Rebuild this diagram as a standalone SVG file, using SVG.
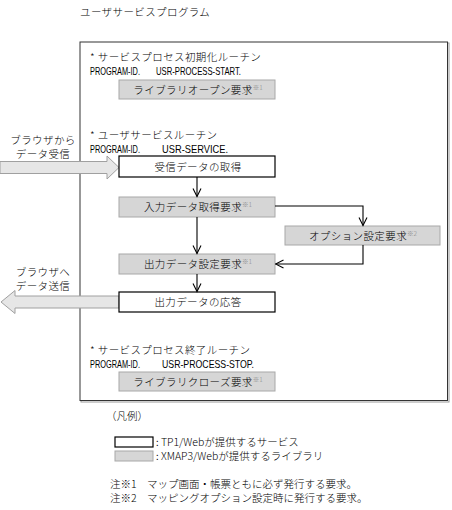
<svg xmlns="http://www.w3.org/2000/svg" width="452" height="510" viewBox="0 0 452 510">
<defs>
<style>
.t{font-family:"Noto Sans CJK JP","Liberation Sans",sans-serif;font-size:10.5px;font-weight:300;letter-spacing:0.4px;fill:#000}
.s{font-family:"Noto Sans CJK JP","Liberation Sans",sans-serif;font-size:10.5px;font-weight:300;fill:#000}
.m{font-family:"Liberation Sans","Noto Sans CJK JP",sans-serif;font-size:10.5px;fill:#000}
.c{text-anchor:middle}
.sup{font-size:6.5px;fill:#8a8a8a;letter-spacing:0}
.w{fill:#fff;stroke:#000;stroke-width:1.2}
.g{fill:#d6d6d6;stroke:#a8a8a8;stroke-width:1}
.fat{fill:#e6e6e6;stroke:#a0a0a0;stroke-width:1}
.ln{fill:none;stroke:#000;stroke-width:1.1}
</style>
<marker id="v" markerWidth="10" markerHeight="10" refX="9" refY="5" orient="auto" markerUnits="userSpaceOnUse">
<path d="M1,1 L9,5 L1,9" fill="none" stroke="#000" stroke-width="1.1"/>
</marker>
</defs>
<rect width="452" height="510" fill="#fff"/>
<text class="t" x="80" y="16">ユーザサービスプログラム</text>
<g id="main-frame">
<rect x="81" y="43" width="368" height="359" fill="none" stroke="#9a9a9a" stroke-width="1"/>
<rect x="80" y="42" width="367.5" height="358.5" fill="#fff" stroke="#333" stroke-width="1"/>
</g>
<g id="section-start">
<text class="t" x="90" y="61">* サービスプロセス初期化ルーチン</text>
<text class="m" x="90" y="74.5" textLength="50" lengthAdjust="spacingAndGlyphs">PROGRAM-ID.</text>
<text class="m" x="156" y="74.5" textLength="85" lengthAdjust="spacingAndGlyphs">USR-PROCESS-START.</text>
</g>
<g id="lib-open">
<rect class="g" x="119" y="80" width="156" height="19"/>
<text class="t c" x="198" y="93.5">ライブラリオープン要求<tspan class="sup" dy="-4">※1</tspan></text>
</g>
<g id="section-service">
<text class="t" x="90" y="139">* ユーザサービスルーチン</text>
<text class="m" x="90" y="152.5" textLength="50" lengthAdjust="spacingAndGlyphs">PROGRAM-ID.</text>
<text class="m" x="162" y="152.5" textLength="66" lengthAdjust="spacingAndGlyphs">USR-SERVICE.</text>
</g>
<g id="browser-in">
<text class="t c" x="43" y="144">ブラウザから</text>
<text class="t c" x="43" y="158">データ受信</text>
<polygon class="fat" points="0,161.5 107,161.5 107,156 119,167.5 107,179 107,173.5 0,173.5"/>
</g>
<g id="recv">
<rect class="w" x="119" y="156" width="156" height="21"/>
<text class="t c" x="198" y="170.5">受信データの取得</text>
</g>
<g id="input-req">
<rect class="g" x="119" y="197" width="156" height="20"/>
<text class="t c" x="198" y="211">入力データ取得要求<tspan class="sup" dy="-4">※1</tspan></text>
</g>
<g id="option-req">
<rect class="g" x="285" y="226" width="155" height="19"/>
<text class="t c" x="363" y="239.5">オプション設定要求<tspan class="sup" dy="-4">※2</tspan></text>
</g>
<g id="output-req">
<rect class="g" x="119" y="254" width="156" height="20"/>
<text class="t c" x="198" y="268">出力データ設定要求<tspan class="sup" dy="-4">※1</tspan></text>
</g>
<g id="browser-out">
<text class="t c" x="43" y="276">ブラウザへ</text>
<text class="t c" x="43" y="290">データ送信</text>
<polygon class="fat" points="119,296 15,296 15,290.5 1,302 15,313.5 15,308 119,308"/>
</g>
<g id="response">
<rect class="w" x="119" y="292" width="156" height="20"/>
<text class="t c" x="198" y="306">出力データの応答</text>
</g>
<g id="section-stop">
<text class="t" x="90" y="354">* サービスプロセス終了ルーチン</text>
<text class="m" x="90" y="367.5" textLength="50" lengthAdjust="spacingAndGlyphs">PROGRAM-ID.</text>
<text class="m" x="162" y="367.5" textLength="92" lengthAdjust="spacingAndGlyphs">USR-PROCESS-STOP.</text>
</g>
<g id="lib-close">
<rect class="g" x="119" y="372" width="156" height="19"/>
<text class="t c" x="198" y="385.5">ライブラリクローズ要求<tspan class="sup" dy="-4">※1</tspan></text>
</g>
<g id="connectors">
<line class="ln" x1="197" y1="177" x2="197" y2="196.5" marker-end="url(#v)"/>
<line class="ln" x1="197" y1="217" x2="197" y2="253.5" marker-end="url(#v)"/>
<line class="ln" x1="197" y1="274" x2="197" y2="291.5" marker-end="url(#v)"/>
<polyline class="ln" points="275,206 363,206 363,225.5" marker-end="url(#v)"/>
<polyline class="ln" points="363,245 363,264 275.5,264" marker-end="url(#v)"/>
</g>
<g id="legend">
<text class="s" x="106" y="420">（凡例）</text>
<rect class="w" x="115" y="437" width="38" height="10"/>
<rect class="g" x="115" y="451" width="38" height="10"/>
<text class="s" x="156" y="446">: TP1/Webが提供するサービス</text>
<text class="s" x="156" y="460">: XMAP3/Webが提供するライブラリ</text>
<text class="s" x="110" y="488">注※1　マップ画面・帳票ともに必ず発行する要求。</text>
<text class="s" x="110" y="502">注※2　マッピングオプション設定時に発行する要求。</text>
</g>
</svg>
